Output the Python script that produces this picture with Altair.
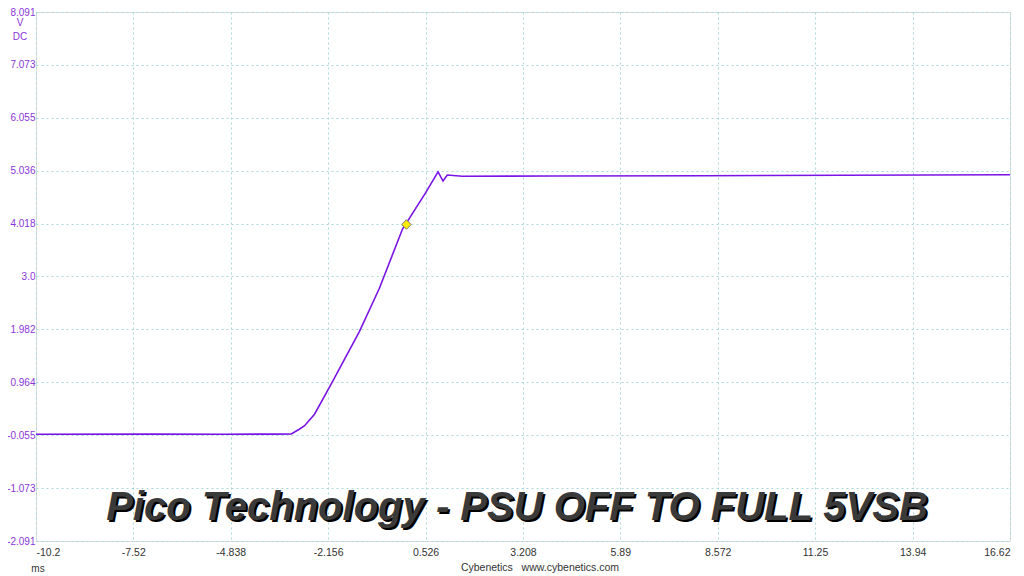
import altair as alt
import pandas as pd
import json

# Trace values (time in ms, voltage in V DC)
time_ms = [-10.2, -7.0, -5.0, -3.6, -3.171, -2.95, -2.804, -2.53, -2.028, -1.296,
           -0.747, -0.108, 0.531, 0.871, 1.008, 1.126, 1.537, 4.0, 8.119, 12.0, 16.62]
volts = [-0.036, -0.034, -0.036, -0.034, -0.032, 0.06, 0.127, 0.35, 0.986, 1.941,
         2.768, 3.914, 4.615, 5.016, 4.838, 4.953, 4.930, 4.935, 4.940, 4.950, 4.959]

# Trigger marker
marker_t = [0.0]
marker_v = [4.0]

x_ticks = [-10.2, -7.52, -4.838, -2.156, 0.526, 3.208, 5.89, 8.572, 11.25, 13.94, 16.62]
x_labels = ["-10.2", "-7.52", "-4.838", "-2.156", "0.526", "3.208", "5.89", "8.572",
            "11.25", "13.94", "16.62"]
y_ticks = [-2.091, -1.073, -0.055, 0.964, 1.982, 3.0, 4.018, 5.036, 6.055, 7.073, 8.091]
y_labels = ["-2.091", "-1.073", "-0.055", "0.964", "1.982", "3.0", "4.018", "5.036",
            "6.055", "7.073", "8.091"]

title_text = "Pico Technology - PSU OFF TO FULL 5VSB"
credit_text = "Cybenetics\u00a0\u00a0 www.cybenetics.com"

W, H = 974, 529
PURPLE_LINE = "#7a14e6"
PURPLE_TXT = "#8c35d9"
GRID = "#a8d8d8"


def lookup_expr(ticks, labels):
    parts = []
    for t, l in zip(ticks, labels):
        parts.append("abs(datum.value - (%r)) < 1e-6 ? '%s'" % (t, l))
    return " : ".join(parts) + " : ''"


trace = pd.DataFrame({"t": time_ms, "v": volts})
mk = pd.DataFrame({"t": marker_t, "v": marker_v})
one = pd.DataFrame({"a": [0]})

xs = alt.Scale(domain=[x_ticks[0], x_ticks[-1]], nice=False, zero=False)
ys = alt.Scale(domain=[y_ticks[0], y_ticks[-1]], nice=False, zero=False)

x_axis = alt.Axis(values=x_ticks, title=None, domain=False, ticks=False,
                  grid=True, gridColor=GRID, gridDash=[2, 3], gridWidth=1,
                  labelFont="Liberation Sans", labelFontSize=10.5, labelColor="#333333",
                  labelPadding=6, labelExpr=lookup_expr(x_ticks, x_labels))
y_axis = alt.Axis(values=y_ticks, title=None, domain=False, ticks=False,
                  grid=True, gridColor=GRID, gridDash=[2, 3], gridWidth=1,
                  labelFont="Liberation Sans", labelFontSize=10, labelColor=PURPLE_TXT,
                  labelPadding=1, labelExpr=lookup_expr(y_ticks, y_labels))

line = alt.Chart(trace).mark_line(color=PURPLE_LINE, strokeWidth=1.6).encode(
    x=alt.X("t:Q", scale=xs, axis=x_axis),
    y=alt.Y("v:Q", scale=ys, axis=y_axis),
)

point = alt.Chart(mk).mark_point(shape="diamond", filled=True, fill="#ffee00",
                                 stroke="#777777", strokeWidth=1, size=90, opacity=1).encode(
    x=alt.X("t:Q", scale=xs), y=alt.Y("v:Q", scale=ys)
)


def label(txt, x, y, color, size=10.5, align="center", font="Liberation Sans",
          weight="normal", style="normal", baseline="middle"):
    return alt.Chart(one).mark_text(text=txt, color=color, fontSize=size, align=align,
                                    baseline=baseline, font=font, fontWeight=weight,
                                    fontStyle=style).encode(
        x=alt.value(x), y=alt.value(y))


v_lab = label("V", -16, 11, PURPLE_TXT, size=10)
dc_lab = label("DC", -16, 25, PURPLE_TXT, size=10)
ms_lab = label("ms", 2, 557, "#333333", size=10)
credit = label(credit_text, 504, 556, "#333333", size=10.5)

title_shadow = label(title_text, 483, 510, "#000000", size=40, weight="bold",
                     style="italic", baseline="alphabetic")
title_main = label(title_text, 481, 508, "#3a3a3a", size=40, weight="bold",
                   style="italic", baseline="alphabetic")

chart = alt.layer(line, point, v_lab, dc_lab, ms_lab, credit, title_shadow, title_main).properties(
    width=W, height=H,
    autosize=alt.AutoSizeParams(type="none"),
    padding={"left": 28, "top": 4, "right": 6, "bottom": 34},
).configure_view(stroke=None).configure(background="white")

chart.save("out.html", embed_options={"renderer": "svg", "actions": False})
